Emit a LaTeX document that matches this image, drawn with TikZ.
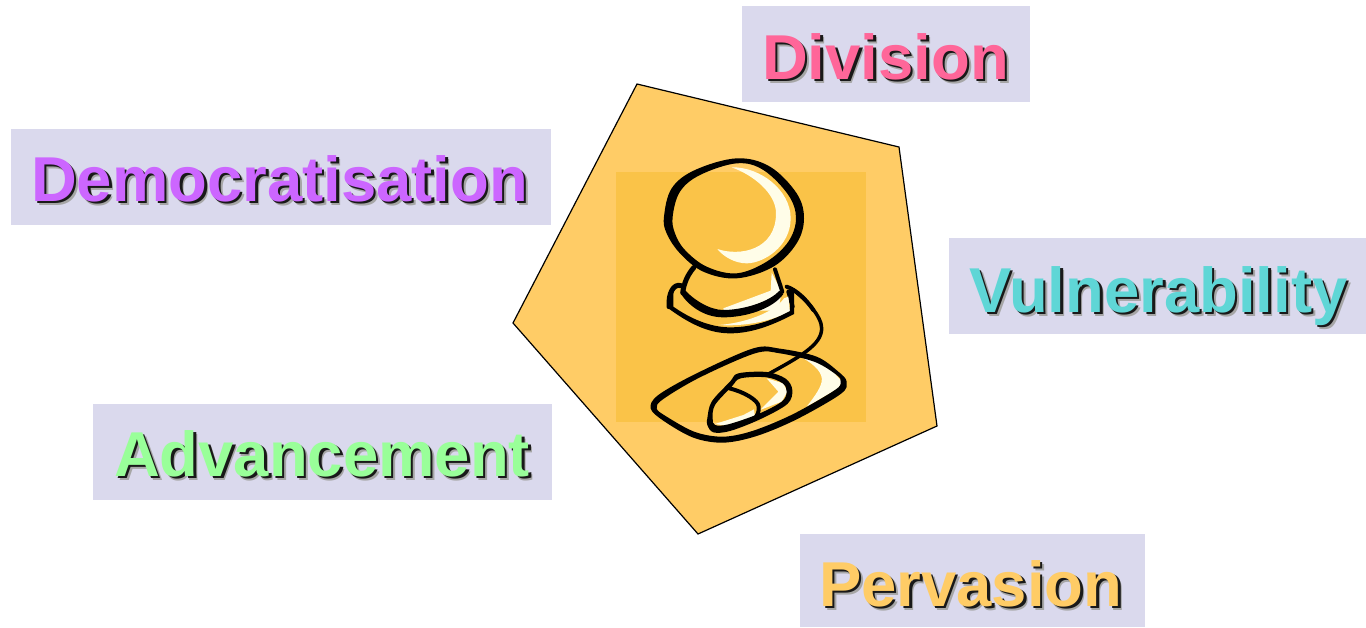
\documentclass[tikz,border=0pt]{standalone}
\usepackage{fontspec}
\setmainfont{Liberation Sans}
\definecolor{boxbg}{HTML}{DAD9ED}
\definecolor{penta}{HTML}{FFCC66}
\definecolor{squarefill}{HTML}{FAC348}
\definecolor{glint}{HTML}{FFFDE8}
\definecolor{cpurple}{HTML}{CC66FF}
\definecolor{cpink}{HTML}{FF6699}
\definecolor{cteal}{HTML}{5FD6D6}
\definecolor{cgreen}{HTML}{99FF99}
\definecolor{corange}{HTML}{FFCC66}
\newcommand{\shadowed}[2]{{\color{black!35}\rlap{\kern4pt\raisebox{-4pt}{#2}}}{\color{black!90}\rlap{\kern2.5pt\raisebox{-2.5pt}{#2}}}{\color{#1}#2}}
\tikzset{
  labelbox/.style={fill=boxbg,draw=none,inner sep=0pt,anchor=north west},
  labeltext/.style={inner sep=0pt,anchor=base west,font=\fontsize{63.4}{64}\selectfont\bfseries},
  ink/.style={fill=black,draw=none,even odd rule},
  shine/.style={fill=glint,draw=none},
  pen/.style={draw=black,line cap=round,line join=round}
}
\begin{document}
\begin{tikzpicture}[x=1pt,y=-1pt]
\useasboundingbox (0,0) rectangle (1366,627);
\fill[white] (0,0) rectangle (1366,627);
% label boxes
\node[labelbox,minimum width=540pt,minimum height=96pt] (bDem) at (11,129) {};
\node[labelbox,minimum width=288pt,minimum height=96pt] (bDiv) at (742,6) {};
\node[labelbox,minimum width=417pt,minimum height=96pt] (bVul) at (949,238) {};
\node[labelbox,minimum width=459pt,minimum height=96pt] (bAdv) at (93,404) {};
\node[labelbox,minimum width=345pt,minimum height=93pt] (bPer) at (800,534) {};
% pentagon and square
\draw[fill=penta,draw=black,line width=1.2pt,line join=miter] (637,84) -- (899,147) -- (937,426) -- (698,534) -- (513,323) -- cycle;
\fill[squarefill] (616,172) rectangle (866,422);
% joystick, upper part
\begin{scope}[shift={(600,150)},x=0.33333pt,y=-0.33333pt]
\fill[ink] plot[smooth cycle,tension=0.6] coordinates {(192,200)(215,115)(285,60)(410,25)(510,50)(590,130)(612,205)(590,280)(520,350)(410,385)(310,365)(240,310)(200,250)}
  plot[smooth cycle,tension=0.6] coordinates {(218,200)(240,125)(300,75)(410,40)(490,60)(565,135)(588,205)(565,275)(500,335)(410,370)(320,350)(255,300)(225,250)};
\fill[shine] (395,52) .. controls (480,50) and (572,120) .. (572,205) .. controls (572,290) and (490,340) .. (440,340) .. controls (405,340) and (370,320) .. (352,297) .. controls (420,320) and (528,300) .. (528,190) .. controls (528,130) and (460,75) .. (395,52) -- cycle;
% neck highlight
\fill[shine] (515,368) -- (512,422) -- (370,475) -- (372,482) -- (535,482) -- (545,425) -- cycle;
% neck sides
\draw[pen,line width=5pt] (282,352) .. controls (262,375) and (252,400) .. (248,428);
\draw[pen,line width=4pt] (525,358) -- (547,425);
% lower ring top
\draw[pen,line width=5pt] (243,407) .. controls (220,400) and (205,430) .. (207,470);
\draw[pen,line width=4pt] (560,410) .. controls (590,420) and (620,450) .. (640,480);
\draw[pen,line width=4pt] (565,425) -- (578,470);
\end{scope}
% joystick, lower part and mouse
\begin{scope}[shift={(630,290)},x=0.33333pt,y=-0.33333pt]
% neck bowl
\fill[ink] (153,12) -- (160,-5) .. controls (190,30) and (240,60) .. (280,60) .. controls (340,60) and (420,35) .. (448,2) -- (460,12) .. controls (430,55) and (350,82) .. (280,82) .. controls (220,82) and (175,45) .. (153,12) -- cycle;
% lower ring
\fill[shine] (265,105) .. controls (340,100) and (430,70) .. (462,25) -- (475,20) -- (480,65) .. controls (420,95) and (340,110) .. (265,105) -- cycle;
\fill[ink] (115,55) -- (118,0) -- (130,0) -- (130,50) .. controls (180,85) and (240,112) .. (300,112) .. controls (370,112) and (430,90) .. (480,63) -- (478,0) -- (492,0) -- (492,72) .. controls (420,110) and (360,130) .. (300,130) .. controls (230,130) and (170,95) .. (115,55) -- cycle;
% pad highlight
\fill[shine] (520,205) .. controls (555,225) and (580,250) .. (575,275) .. controls (570,300) and (545,330) .. (530,350) -- (625,295) -- (636,275) -- (600,235) -- (560,212) -- cycle;
% pad
\fill[ink] plot[smooth cycle,tension=0.55] coordinates {(62,355)(85,315)(200,250)(370,175)(450,176)(560,200)(625,245)(650,275)(632,312)(500,388)(380,438)(280,458)(190,443)(100,392)}
  plot[smooth cycle,tension=0.55] coordinates {(80,355)(100,327)(210,262)(375,190)(450,190)(555,216)(620,255)(632,275)(615,300)(490,372)(370,422)(280,440)(195,426)(110,380)};
% cord
\draw[pen,line width=3.5pt] (490,0) .. controls (530,30) and (575,80) .. (575,115) .. controls (575,165) and (510,200) .. (410,255);
% mouse highlights
\fill[shine] (410,265) -- (445,305) -- (390,360) -- (455,335) -- (472,305) -- (460,280) -- cycle;
\fill[shine] (255,402) -- (340,375) -- (372,358) -- (375,382) -- (295,408) -- cycle;
% mouse
\fill[ink] plot[smooth cycle,tension=0.55] coordinates {(232,385)(245,335)(300,275)(325,250)(410,246)(467,266)(487,300)(472,342)(390,388)(300,423)(250,427)(232,405)}
  plot[smooth cycle,tension=0.55] coordinates {(248,385)(255,345)(305,290)(332,265)(410,262)(458,280)(470,305)(455,335)(385,372)(295,403)(255,405)};
\draw[pen,line width=4pt] (298,295) .. controls (340,305) and (385,330) .. (386,350) .. controls (388,365) and (382,375) .. (375,385);
\end{scope}
% label texts
\node[labeltext] (tDem) at (31,201) {\shadowed{cpurple}{Democratisation}};
\node[labeltext] (tDiv) at (762,79) {\shadowed{cpink}{Division}};
\node[labeltext] (tVul) at (969,312) {\shadowed{cteal}{Vulnerability}};
\node[labeltext] (tAdv) at (114,476) {\shadowed{cgreen}{Advancement}};
\node[labeltext] (tPer) at (819,606) {\shadowed{corange}{Pervasion}};
\end{tikzpicture}
\end{document}
